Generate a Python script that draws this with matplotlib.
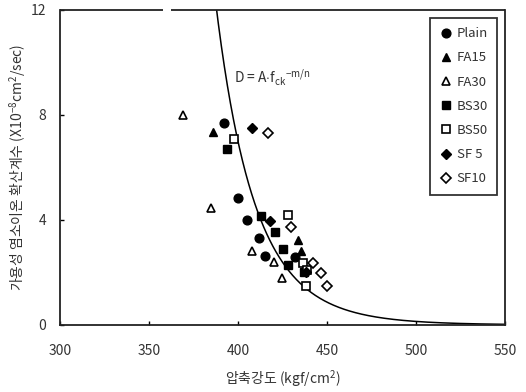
import matplotlib
matplotlib.use("Agg")
import matplotlib.pyplot as plt
import numpy as np

plt.rcParams['font.family'] = ['Noto Sans CJK KR', 'DejaVu Sans']
plt.rcParams['mathtext.fontset'] = 'custom'
plt.rcParams['mathtext.rm'] = 'Noto Sans CJK KR'
plt.rcParams['mathtext.it'] = 'Noto Sans CJK KR'

# data (compressive strength kgf/cm2, diffusion coefficient x1e-8 cm2/sec)
plain_x = [392, 400, 405, 412, 415, 432]
plain_y = [7.7, 4.85, 4.0, 3.3, 2.63, 2.6]
fa15_x = [386, 434, 435.5]
fa15_y = [7.35, 3.25, 2.8]
fa30_x = [369, 385, 408, 420, 425]
fa30_y = [8.0, 4.45, 2.8, 2.4, 1.8]
bs30_x = [394, 413, 421, 425.5, 428, 437]
bs30_y = [6.7, 4.15, 3.55, 2.9, 2.3, 2.0]
bs50_x = [398, 428, 436.5, 439, 438]
bs50_y = [7.1, 4.2, 2.35, 2.1, 1.5]
sf5_x = [408, 418, 438]
sf5_y = [7.5, 3.95, 2.0]
sf10_x = [417, 430, 442, 446.5, 450]
sf10_y = [7.3, 3.75, 2.35, 1.97, 1.47]

# fitted curve D = A * f^(-m/n): passes D=12 at f=388, exponent 17.7
curve_f0 = 388.0
curve_d0 = 12.0
curve_exp = 17.7

fig = plt.figure(figsize=(5.26, 3.92), dpi=100)
ax = fig.add_axes([0.114, 0.171, 0.846, 0.8035])

fx = np.linspace(380, 550, 400)
fy = curve_d0 * (fx / curve_f0) ** (-curve_exp)
ax.plot(fx, fy, color='black', lw=1.1, zorder=1)

ms = 6.3
ax.plot(plain_x, plain_y, 'o', color='black', ms=ms, label='Plain', zorder=3)
ax.plot(fa15_x, fa15_y, '^', color='black', ms=ms, label='FA15', zorder=3)
ax.plot(fa30_x, fa30_y, '^', mfc='white', mec='black', mew=1.2, ms=ms, label='FA30', zorder=3)
ax.plot(bs30_x, bs30_y, 's', color='black', ms=ms, label='BS30', zorder=3)
ax.plot(bs50_x, bs50_y, 's', mfc='white', mec='black', mew=1.2, ms=ms, label='BS50', zorder=3)
ax.plot(sf5_x, sf5_y, 'D', color='black', ms=ms-1.5, label='SF 5', zorder=3)
ax.plot(sf10_x, sf10_y, 'D', mfc='white', mec='black', mew=1.2, ms=ms-1.5, label='SF10', zorder=3)

ax.set_xlim(300, 550)
ax.set_ylim(0, 12)
ax.set_xticks([300, 350, 400, 450, 500, 550])
ax.set_yticks([0, 4, 8, 12])
ax.tick_params(direction='in', length=3, labelsize=10, labelcolor='#333333', width=1)
ax.tick_params(axis='x', pad=14)
ax.tick_params(axis='y', pad=10)
for s in ax.spines.values():
    s.set_linewidth(1.3)
    s.set_color('#222222')
# top frame drawn in two pieces (small break as in the original)
ax.spines['top'].set_visible(False)
ax.plot([0, 0.232], [1, 1], transform=ax.transAxes, color='#222222', lw=1.3, clip_on=False,
        solid_capstyle='butt')
ax.plot([0.25, 1], [1, 1], transform=ax.transAxes, color='#222222', lw=1.3, clip_on=False,
        solid_capstyle='butt')

ax.text(398, 9.4, r'D = A$\cdot$f$_{\mathrm{ck}}$$^{-m/n}$', fontsize=10, color='#333333', va='center')

ax.set_xlabel('압축강도 (kgf/cm$^2$)', fontsize=10, color='#333333', labelpad=7)
ax.set_ylabel('가용성 염소이온 확산계수 (X10$^{-8}$cm$^2$/sec)', fontsize=10, color='#333333', labelpad=2)

leg = ax.legend(loc='upper right', fontsize=9.5, frameon=True, fancybox=False,
                edgecolor='black', handletextpad=0.3, handlelength=1.0,
                borderaxespad=0.6, labelspacing=0.85, borderpad=0.7)
leg.get_frame().set_linewidth(1.3)
for t in leg.get_texts():
    t.set_color('#333333')

fig.savefig('out.png', dpi=100)
